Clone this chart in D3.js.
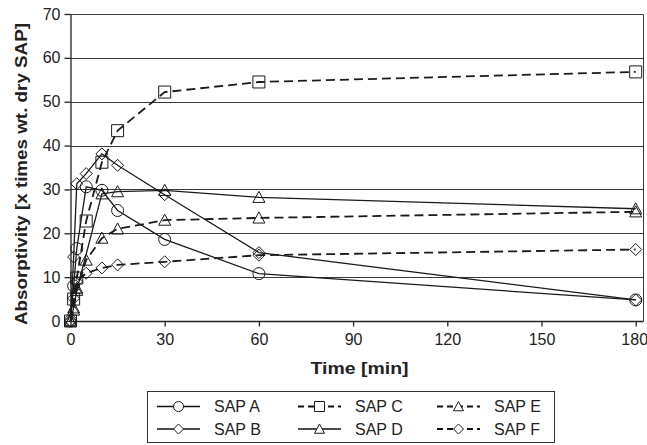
<!DOCTYPE html>
<html>
<head>
<meta charset="utf-8">
<script src="https://cdn.jsdelivr.net/npm/d3@7"></script>
<style>
  body { margin: 0; background: #fff; }
  svg { font-family: "Liberation Sans", Arial, sans-serif; }
</style>
</head>
<body>
<svg id="chart" width="647" height="445"></svg>
<script>
// time points [min]
var times = [0, 1, 2, 5, 10, 15, 30, 60, 180];
// absorptivity per SAP (x times wt. dry SAP)
var sapA = [0, 8.0, 16.5, 30.6, 29.8, 25.2, 18.6, 10.8, 4.8];
var sapB = [0, 14.6, 31.3, 33.6, 38.1, 35.5, 28.8, 15.6, 4.8];
var sapC = [0, 5.0, 9.8, 22.8, 36.2, 43.4, 52.2, 54.5, 56.8];
var sapD = [0, 3.0, 7.0, null, 29.0, 29.5, 29.8, 28.2, 25.6];
var sapE = [0, 2.5, 7.5, 13.9, 18.9, 21.0, 23.0, 23.5, 24.9];
var sapF = [0, 5.2, 9.0, 10.9, 12.1, 12.8, 13.5, 15.0, 16.3];

var xTicks = [0, 30, 60, 90, 120, 150, 180];
var yTicks = [0, 10, 20, 30, 40, 50, 60, 70];

var series = [
  { name: 'SAP A', values: sapA, marker: 'circle', dashed: false },
  { name: 'SAP B', values: sapB, marker: 'diamond', dashed: false },
  { name: 'SAP C', values: sapC, marker: 'square', dashed: true },
  { name: 'SAP D', values: sapD, marker: 'triangle', dashed: false },
  { name: 'SAP E', values: sapE, marker: 'triangle', dashed: true },
  { name: 'SAP F', values: sapF, marker: 'diamond', dashed: true }
];

var svg = d3.select('#chart');
var plotL = 70.5, plotR = 635.7, plotT = 14, plotB = 321, edgeR = 643.5;

var x = d3.scaleLinear().domain([0, 180]).range([plotL, plotR]);
var y = d3.scaleLinear().domain([0, 70]).range([plotB, plotT]);

// grid lines
svg.append('g').selectAll('line')
  .data(yTicks.filter(function(d) { return d > 0; }))
  .enter().append('line')
  .attr('x1', plotL).attr('x2', edgeR)
  .attr('y1', function(d) { return Math.round(y(d)) + 0.5; })
  .attr('y2', function(d) { return Math.round(y(d)) + 0.5; })
  .attr('stroke', '#3a3a3a').attr('stroke-width', 1);

// right border of plot area
svg.append('line')
  .attr('x1', edgeR).attr('x2', edgeR)
  .attr('y1', Math.round(y(70)) + 0.5).attr('y2', plotB + 0.5)
  .attr('stroke', '#3a3a3a').attr('stroke-width', 1);

// axes
var xAxis = svg.append('g')
  .attr('transform', 'translate(0,' + (plotB + 0.5) + ')')
  .call(d3.axisBottom(x).tickValues(xTicks).tickSize(5).tickSizeOuter(0));
xAxis.select('.domain').attr('d', 'M' + plotL + ',0H' + edgeR);

var yAxis = svg.append('g')
  .attr('transform', 'translate(' + plotL + ',0)')
  .call(d3.axisLeft(y).tickValues(yTicks).tickSize(6).tickSizeOuter(0));

svg.selectAll('.tick text').attr('font-size', 16).attr('fill', '#222')
  .attr('font-family', '"Liberation Sans", Arial, sans-serif');
svg.selectAll('.domain, .tick line').attr('stroke', '#222').attr('stroke-width', 1.3);
xAxis.selectAll('.tick text').attr('dy', '0.97em');
// last label sits at the window edge, nudge it in a bit
xAxis.selectAll('.tick text').filter(function(d) { return d === 180; }).attr('x', -1.5);
yAxis.selectAll('.tick text').attr('x', -10);

// axis titles
svg.append('text')
  .attr('x', 359.5).attr('y', 374)
  .attr('text-anchor', 'middle')
  .attr('font-size', 16).attr('font-weight', 'bold').attr('fill', '#222')
  .attr('textLength', 98).attr('lengthAdjust', 'spacingAndGlyphs')
  .text('Time [min]');
svg.append('text')
  .attr('transform', 'translate(26.5,174) rotate(-90)')
  .attr('text-anchor', 'middle')
  .attr('font-size', 17).attr('font-weight', 'bold').attr('fill', '#222')
  .attr('textLength', 302).attr('lengthAdjust', 'spacingAndGlyphs')
  .text('Absorptivity [x times wt. dry SAP]');

function markerPath(type, s) {
  if (type === 'circle') return d3.symbol(d3.symbolCircle, s * s * Math.PI)();
  if (type === 'square') return 'M' + (-s) + ',' + (-s) + 'h' + 2 * s + 'v' + 2 * s + 'h' + (-2 * s) + 'Z';
  if (type === 'diamond') return 'M0,' + (-s) + 'L' + s + ',0L0,' + s + 'L' + (-s) + ',0Z';
  return 'M0,' + (-s) + 'L' + s + ',' + (s * 0.85) + 'L' + (-s) + ',' + (s * 0.85) + 'Z';
}

var line = d3.line()
  .x(function(d) { return x(d.t); })
  .y(function(d) { return y(d.v); });

series.forEach(function(s) {
  var pts = times.map(function(t, i) { return { t: t, v: s.values[i] }; });
  var clean = pts.filter(function(d) { return d.v != null; });
  svg.append('path')
    .datum(clean)
    .attr('d', line)
    .attr('fill', 'none')
    .attr('stroke', '#1a1a1a')
    .attr('stroke-width', s.dashed ? 1.8 : 1.3)
    .attr('stroke-dasharray', s.dashed ? '9,5' : null);
  svg.append('g').selectAll('path')
    .data(clean)
    .enter().append('path')
    .attr('transform', function(d) { return 'translate(' + x(d.t) + ',' + y(d.v) + ')'; })
    .attr('d', markerPath(s.marker, 6))
    .attr('fill', 'none')
    .attr('stroke', '#1a1a1a')
    .attr('stroke-width', 1);
});

// legend
var legend = svg.append('g');
legend.append('rect')
  .attr('x', 147.5).attr('y', 391.5).attr('width', 407).attr('height', 51)
  .attr('fill', '#fff').attr('stroke', '#333').attr('stroke-width', 1);

var colX = [157, 298, 437];
var rowY = [406.5, 429];
var order = [0, 2, 4, 1, 3, 5];
order.forEach(function(si, k) {
  var s = series[si];
  var cx = colX[k % 3], cy = rowY[Math.floor(k / 3)];
  legend.append('line')
    .attr('x1', cx).attr('x2', cx + 43)
    .attr('y1', cy).attr('y2', cy)
    .attr('stroke', '#111')
    .attr('stroke-width', s.dashed ? 2 : 1.5)
    .attr('stroke-dasharray', s.dashed ? '6,4' : null);
  legend.append('path')
    .attr('transform', 'translate(' + (cx + 21.5) + ',' + cy + ')')
    .attr('d', markerPath(s.marker, 5))
    .attr('fill', '#fff').attr('stroke', '#1a1a1a').attr('stroke-width', 1);
  legend.append('text')
    .attr('x', cx + 57).attr('y', cy).attr('dy', '0.35em')
    .attr('font-size', 16).attr('fill', '#222')
    .text(s.name);
});
</script>
</body>
</html>
